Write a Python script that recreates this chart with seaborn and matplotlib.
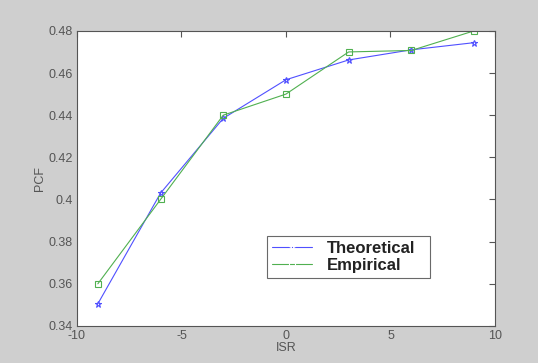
import matplotlib
matplotlib.use("Agg")
import matplotlib.pyplot as plt
import seaborn as sns
import pandas as pd

isr = [-9, -6, -3, 0, 3, 6, 9]
theoretical = [0.3505, 0.4030, 0.4385, 0.4568, 0.4662, 0.4710, 0.4744]
empirical = [0.3600, 0.4000, 0.4400, 0.4500, 0.4700, 0.4707, 0.4800]
series_names = ["Theoretical", "Empirical"]
x_ticks = [-10, -5, 0, 5, 10]
y_ticks = [0.34, 0.36, 0.38, 0.4, 0.42, 0.44, 0.46, 0.48]
y_tick_labels = ["0.34", "0.36", "0.38", "0.4", "0.42", "0.44", "0.46", "0.48"]

df = pd.DataFrame({
    "ISR": isr * 2,
    "PCF": theoretical + empirical,
    "series": [series_names[0]] * len(isr) + [series_names[1]] * len(isr),
})

sns.set_style("white")
plt.rcParams["font.family"] = ["Liberation Sans", "DejaVu Sans"]

fig = plt.figure(figsize=(5.38, 3.63), dpi=100, facecolor="#cfcfcf")
ax = fig.add_axes([0.143, 0.102, 0.777, 0.813])
ax.set_facecolor("white")

palette = {"Theoretical": "#5050ff", "Empirical": "#50b050"}
markers = {"Theoretical": "*", "Empirical": "s"}
sns.lineplot(data=df, x="ISR", y="PCF", hue="series", style="series",
             palette=palette, markers=markers, dashes=False, ax=ax,
             linewidth=0.8, markersize=5, markerfacecolor="none",
             markeredgewidth=0.8)
for line, name in zip(ax.lines, series_names):
    line.set_markeredgecolor(palette[name])

ax.set_xlim(-10, 10)
ax.set_ylim(0.34, 0.48)
ax.set_xticks(x_ticks)
ax.set_xticklabels([str(t) for t in x_ticks])
ax.set_yticks(y_ticks)
ax.set_yticklabels(y_tick_labels)
ax.tick_params(direction="in", length=4, top=True, right=True,
               labelsize=9, colors="#555555", pad=3)
for s in ax.spines.values():
    s.set_color("#555555")
    s.set_linewidth(0.8)
ax.set_xlabel("ISR", fontsize=9, color="#555555", labelpad=0)
ax.set_ylabel("PCF", fontsize=9, color="#555555", labelpad=2)

leg = ax.legend(loc="lower left", bbox_to_anchor=(0.4545, 0.163, 0.39, 0.139),
                mode="expand", fontsize=12, frameon=True, fancybox=False,
                edgecolor="#444444", borderpad=0.3, handlelength=2.4,
                handletextpad=0.9, labelspacing=0.12, borderaxespad=0)
leg.get_frame().set_linewidth(0.8)
for t in leg.get_texts():
    t.set_fontweight("bold")
    t.set_color("#222222")

fig.savefig("out.png", dpi=100, facecolor=fig.get_facecolor())
